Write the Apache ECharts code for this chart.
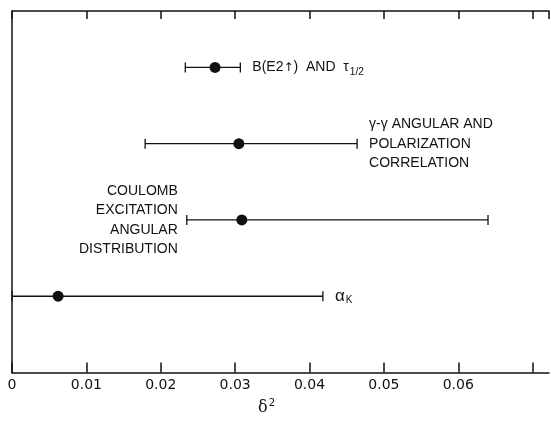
<!DOCTYPE html>
<html>
<head>
<meta charset="utf-8">
<script src="https://cdn.jsdelivr.net/npm/echarts@6/dist/echarts.min.js"></script>
<style>
  html, body { margin: 0; padding: 0; background: #fff; }
  #main { width: 551px; height: 421px; }
</style>
</head>
<body>
<div id="main"></div>
<script>
// measurements, one row per method (top to bottom)
const methods = [
  "{t|B(E2}{a|↑}{t|)  AND  τ}{sub|1/2}",
  "γ-γ ANGULAR AND\nPOLARIZATION\nCORRELATION",
  "COULOMB\nEXCITATION\nANGULAR\nDISTRIBUTION",
  "{g|α}{sub|K}"
];
const rowPos = [4, 3, 2, 1];
const centers = [0.0273, 0.0305, 0.0309, 0.0062];
const lows = [0.0233, 0.0179, 0.0235, 0.0];
const highs = [0.0307, 0.0464, 0.064, 0.0418];
const labelSide = ["right", "right", "left", "right"];
const xTicks = [0, 0.01, 0.02, 0.03, 0.04, 0.05, 0.06];

const ink = "#111";
const textFont = "'Liberation Sans', sans-serif";

const chart = echarts.init(document.getElementById("main"));

const barData = methods.map((m, i) => [lows[i], highs[i], rowPos[i], i]);
const dotData = methods.map((m, i) => [centers[i], rowPos[i]]);

const option = {
  animation: false,
  grid: { left: 12, right: 2, top: 11, bottom: 39 },
  xAxis: [
    {
      type: "value",
      min: 0,
      max: 0.0722,
      interval: 0.01,
      name: "{d|δ}{p|2}",
      nameLocation: "middle",
      nameGap: 26,
      nameTextStyle: {
        padding: [0, 28, 0, 0],
        rich: {
          d: { fontFamily: "DejaVu Serif", fontSize: 16, color: ink },
          p: { fontFamily: "DejaVu Sans", fontSize: 10, color: ink, padding: [0, 0, 9, 1] }
        }
      },
      axisLine: { lineStyle: { color: ink, width: 1.5 } },
      axisTick: { inside: true, length: 10, lineStyle: { color: ink, width: 1.5 } },
      axisLabel: {
        showMaxLabel: false,
        color: ink,
        fontFamily: "DejaVu Sans",
        fontSize: 14,
        margin: 6,
        formatter: v => {
          const t = xTicks.find(x => Math.abs(x - v) < 1e-9);
          return t === undefined ? "" : (t === 0 ? "0" : t.toFixed(2));
        }
      },
      splitLine: { show: false }
    },
    {
      type: "value",
      position: "top",
      min: 0,
      max: 0.0722,
      interval: 0.01,
      axisLine: { show: true, lineStyle: { color: ink, width: 1.5 } },
      axisTick: { show: true, inside: true, length: 8, lineStyle: { color: ink, width: 1.5 } },
      axisLabel: { show: false },
      splitLine: { show: false }
    }
  ],
  yAxis: {
    type: "value",
    min: 0,
    max: 4.74,
    axisLine: { show: true, lineStyle: { color: ink, width: 1.5 } },
    axisTick: { show: false },
    axisLabel: { show: false },
    splitLine: { show: false }
  },
  series: [
    {
      type: "custom",
      data: barData,
      renderItem: (params, api) => {
        const i = api.value(3);
        const a = api.coord([api.value(0), api.value(2)]);
        const b = api.coord([api.value(1), api.value(2)]);
        const cap = 5;
        const ls = { stroke: ink, lineWidth: 1.3 };
        const side = labelSide[i];
        const tx = side === "right" ? b[0] + 12 : a[0] - 9;
        return {
          type: "group",
          children: [
            { type: "line", shape: { x1: a[0], y1: a[1], x2: b[0], y2: b[1] }, style: ls },
            { type: "line", shape: { x1: a[0], y1: a[1] - cap, x2: a[0], y2: a[1] + cap }, style: ls },
            { type: "line", shape: { x1: b[0], y1: b[1] - cap, x2: b[0], y2: b[1] + cap }, style: ls },
            {
              type: "text",
              x: tx,
              y: a[1],
              style: {
                text: methods[i],
                fill: ink,
                font: "14px " + textFont,
                align: side === "right" ? "left" : "right",
                verticalAlign: "middle",
                lineHeight: 19.5,
                rich: {
                  t: { fontFamily: textFont, fontSize: 14, color: ink },
                  g: { fontFamily: textFont, fontSize: 17, color: ink },
                  a: { fontFamily: "DejaVu Sans", fontSize: 12, color: ink },
                  sub: { fontFamily: textFont, fontSize: 10, color: ink, padding: [9, 0, 0, 1] }
                }
              }
            }
          ]
        };
      },
      z: 2
    },
    {
      type: "scatter",
      data: dotData,
      symbol: "circle",
      symbolSize: 11,
      itemStyle: { color: ink, opacity: 1 },
      z: 3
    }
  ]
};

chart.setOption(option);
</script>
</body>
</html>
